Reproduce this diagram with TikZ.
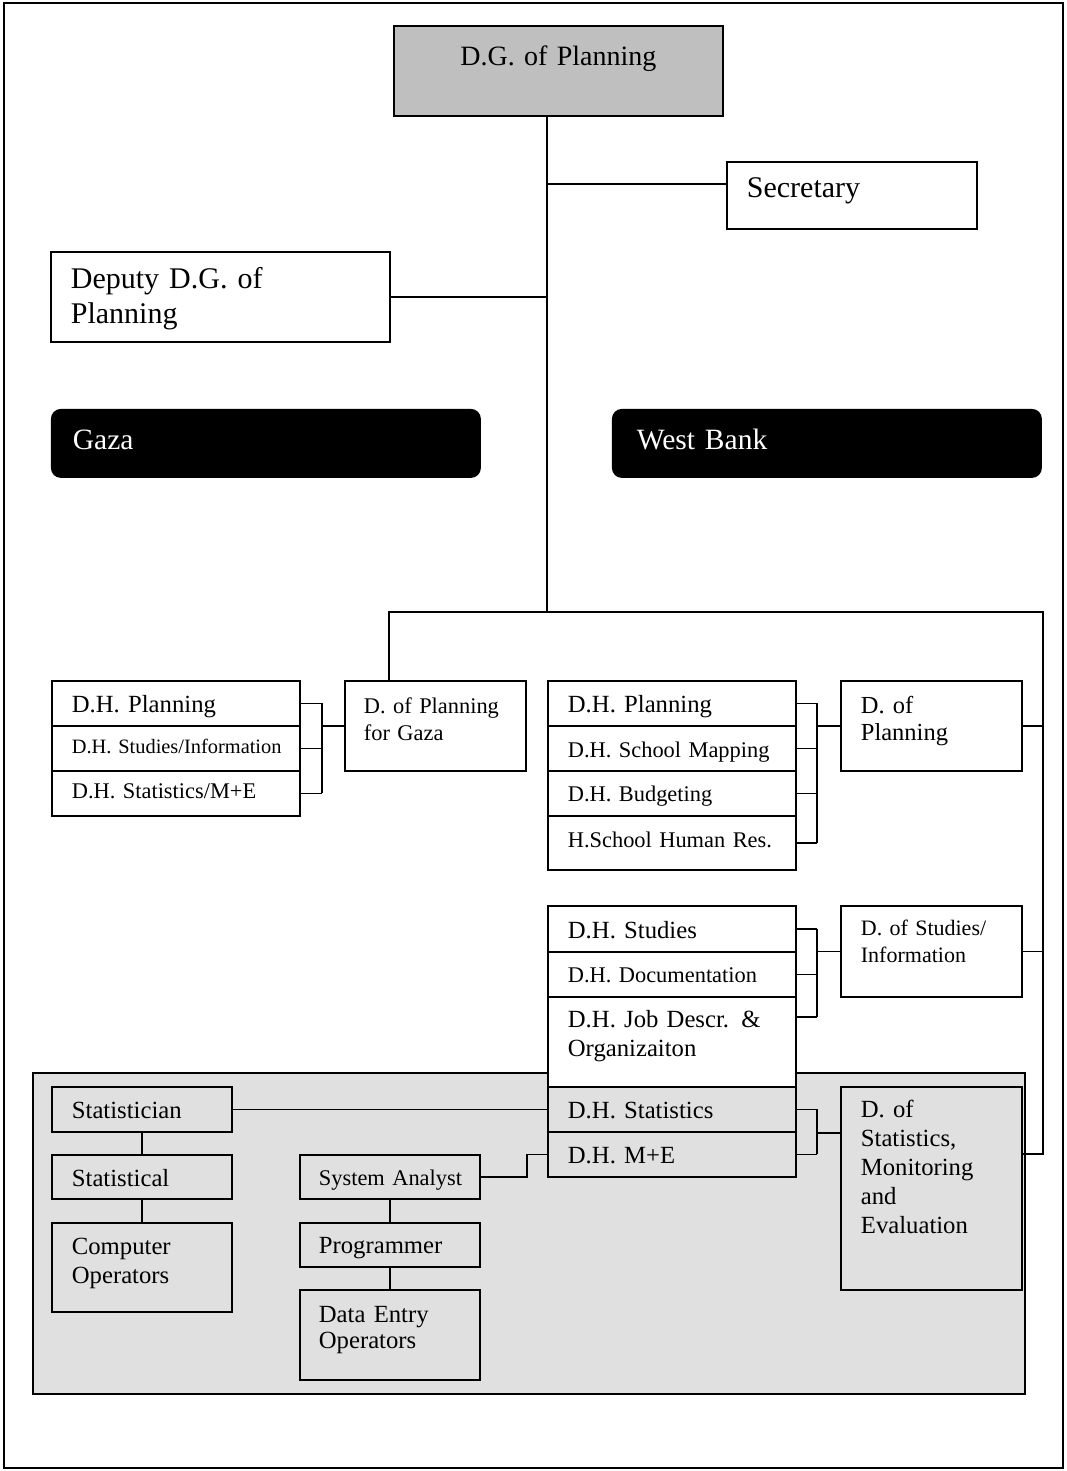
\documentclass[tikz,border=0pt]{standalone}
\usepackage{fontspec}
\setmainfont{Liberation Serif}
\usepackage{tikz}
\usetikzlibrary{calc}
\newcommand{\fdg}{\fontsize{28}{34}\selectfont}
\newcommand{\fhead}{\fontsize{30}{35}\selectfont}
\newcommand{\fband}{\fontsize{29.5}{35}\selectfont}
\newcommand{\fmain}{\fontsize{24.7}{28.5}\selectfont}
\newcommand{\fsmall}{\fontsize{22.4}{27}\selectfont}
\newcommand{\ftiny}{\fontsize{20.4}{24}\selectfont}
\tikzstyle{unit}=[draw,line width=1.8pt,anchor=north west,inner xsep=20pt,inner ysep=0pt,align=left]
\tikzstyle{band}=[unit,draw=none,fill=black,text=white,rounded corners=10pt,font=\fband]
\tikzstyle{link}=[draw,line width=1.8pt]
\tikzstyle{area}=[draw,line width=1.8pt,fill=black!12]

\begin{document}
\begin{tikzpicture}[x=1pt,y=-1pt]

    \useasboundingbox (0,0) rectangle (1066,1471);
    \draw[line width=1.8pt] (4,3) rectangle (1063,1468);
    \path[area] (33,1073) rectangle (1025,1394);

    % top of the chart
    \node[unit,fill=black!25,align=center,font=\fdg,text width=289pt,text height=40pt,text depth=50pt] (dg) at (393,25) {D.G. of Planning};
    \node[unit,font=\fhead,text width=210pt,text height=36pt,text depth=31pt] (sec) at (726,161) {Secretary};
    \node[unit,font=\fhead,text width=299pt,text height=37pt,text depth=53pt] (dep) at (50,251) {Deputy D.G. of\\Planning};
    \node[band,inner xsep=22pt,text width=386pt,text height=41pt,text depth=28pt] (gaza) at (50,408) {Gaza};
    \node[band,inner xsep=25pt,text width=380pt,text height=41pt,text depth=28pt] (wb) at (611,408) {West Bank};

    % Gaza
    \foreach \name/\y/\b/\fnt/\txt in {gzp/680/32/\fmain/{D.H. Planning}, gzs/725/28/\ftiny/{\mbox{D.H. Studies/Information}}, gzm/770/28/\fsmall/{\mbox{D.H. Statistics/M+E}}}
        \node[unit,font=\fnt,text width=208pt,text height=\b pt,text depth=45pt-\b pt] (\name) at (51,\y) {\txt};
    \node[unit,inner xsep=19pt,font=\fsmall,text width=143pt,text height=33pt,text depth=57pt] (gzdir) at (344,680) {D. of Planning\\for Gaza};

    % West Bank
    \foreach \name/\y/\h/\b/\fnt/\txt in {wpp/680/45/32/\fmain/{D.H. Planning}, wps/725/45/32/\fsmall/{\mbox{D.H. School Mapping}}, wpb/770/45/31/\fsmall/{D.H. Budgeting}, wph/815/54/32/\fsmall/{\mbox{H.School Human Res.}}, wss/905/46/33/\fmain/{D.H. Studies}, wsd/951/45/31/\fsmall/{\mbox{D.H. Documentation}}, wst/1086/45/32/\fmain/{D.H. Statistics}, wme/1131/45/32/\fmain/{D.H. M+E}}
        \node[unit,font=\fnt,text width=208pt,text height=\b pt,text depth=\h pt-\b pt] (\name) at (547,\y) {\txt};
    \node[unit,fill=white,font=\fmain,text width=208pt,text height=31pt,text depth=59pt] (wsj) at (547,996) {\makebox[\linewidth][s]{D.H. Job Descr. \&}\\Organizaiton};

    \node[unit,text width=141pt,text height=33pt,text depth=57pt,font={\fontsize{24.5}{27}\selectfont}] (pldir) at (840,680) {D. of\\Planning};
    \node[unit,text width=141pt,text height=30pt,text depth=61pt,font={\fontsize{22}{27}\selectfont}] (sddir) at (840,905) {\makebox[\linewidth][s]{D. of Studies/}\\Information};
    \node[unit,text width=141pt,text height=31pt,text depth=172pt,font={\fontsize{24.7}{29}\selectfont}] (stdir) at (840,1086) {D. of\\Statistics,\\Monitoring\\and\\Evaluation};

    % statistics staff
    \node[unit,font=\fmain,text width=140pt,text height=32pt,text depth=13pt] (stn) at (51,1086) {Statistician};
    \node[unit,font=\fmain,text width=140pt,text height=32pt,text depth=12pt] (stl) at (51,1154) {Statistical};
    \node[unit,font=\fmain,text width=140pt,text height=32pt,text depth=57pt] (cop) at (51,1222) {Computer\\Operators};
    \node[unit,inner xsep=19pt,font=\fsmall,text width=142pt,text height=31pt,text depth=13pt] (san) at (299,1154) {\mbox{System Analyst}};
    \node[unit,inner xsep=19pt,font=\fmain,text width=142pt,text height=31pt,text depth=13pt] (prg) at (299,1222) {Programmer};
    \node[unit,inner xsep=19pt,font={\fontsize{24.7}{26}\selectfont},text width=142pt,text height=33pt,text depth=57pt] (den) at (299,1289) {Data Entry\\Operators};

    % Connect the boxes
    \coordinate (spine) at (547,612);
    \coordinate (busL) at (389,612);
    \coordinate (busR) at (1043,612);
    \coordinate (gzb) at (322,725);
    \coordinate (wbb) at (817,725);
    \coordinate (jobhook) at ([yshift=-21pt]wsj.north east);
    \coordinate (sdhook) at ([yshift=-68pt]stdir.north east);

    \path[link] (dg.south -| spine) -- (spine);
    \path[link] ([yshift=11.5pt]sec.west) -- ([yshift=11.5pt]sec.west -| spine);
    \path[link] (dep.east) -- (dep.east -| spine);
    \path[link] (gzdir.north -| busL) -- (busL) -- (busR) -- (busR |- sdhook) -- (sdhook);
    \path[link] (pldir.east) -- (pldir.east -| busR);
    \path[link] (sddir.east) -- (sddir.east -| busR);

    \foreach \r in {gzp,gzs,gzm}
        \path[link] (\r.east) -- (\r.east -| gzb);
    \path[link] (gzp.east -| gzb) -- (gzm.east -| gzb);
    \path[link] (gzdir.west -| gzb) -- (gzdir.west);

    \foreach \r in {wpp,wps,wpb,wph,wss,wsd,wst,wme}
        \path[link] (\r.east) -- (\r.east -| wbb);
    \path[link] (jobhook) -- (jobhook -| wbb);
    \path[link] (wpp.east -| wbb) -- (wph.east -| wbb);
    \path[link] (wss.east -| wbb) -- (jobhook -| wbb);
    \path[link] (wst.east -| wbb) -- (wme.east -| wbb);
    \path[link] (pldir.west -| wbb) -- (pldir.west);
    \path[link] (sddir.west -| wbb) -- (sddir.west);
    \path[link] (wst.south -| wbb) -- (wst.south -| stdir.west);

    \path[link] (stn.east) -- (wst.west);
    \path[link] (stn.south) -- (stl.north);
    \path[link] (stl.south) -- (cop.north);
    \path[link] (san.east) -- ++(46,0) |- (wme.west);
    \path[link] (san.south) -- (prg.north);
    \path[link] (prg.south) -- (den.north);

\end{tikzpicture}
\end{document}
